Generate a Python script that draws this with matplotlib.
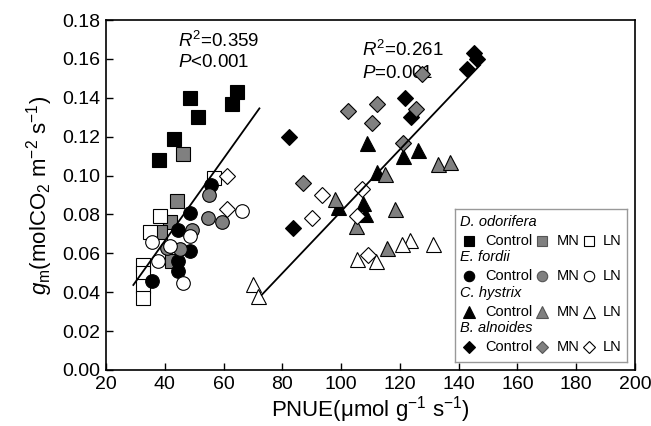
import numpy as np
import matplotlib
matplotlib.use("Agg")
import matplotlib.pyplot as plt

plt.rcParams['font.family'] = ['Liberation Sans', 'DejaVu Sans']
plt.rcParams['mathtext.fontset'] = 'custom'
plt.rcParams['mathtext.rm'] = 'Liberation Sans'
plt.rcParams['mathtext.it'] = 'Liberation Sans:italic'

# --- data (PNUE, gm) ---
# D. odorifera (squares)
do_ctrl_x = [48.6, 64.5, 62.8, 51.2, 43.2, 38.1]
do_ctrl_y = [0.140, 0.143, 0.137, 0.130, 0.119, 0.108]
do_mn_x = [46.3, 44.1, 41.8, 38.4, 42.4]
do_mn_y = [0.111, 0.087, 0.076, 0.071, 0.056]
do_ln_x = [56.8, 38.4, 35.0, 32.7, 32.7, 32.7, 32.7]
do_ln_y = [0.099, 0.079, 0.071, 0.054, 0.050, 0.043, 0.037]

# E. fordii (circles)
ef_ctrl_x = [55.6, 48.6, 44.6, 48.6, 44.6, 44.6, 35.5]
ef_ctrl_y = [0.095, 0.081, 0.072, 0.061, 0.056, 0.051, 0.046]
ef_mn_x = [55.1, 54.8, 59.4, 49.2, 40.7, 45.2]
ef_mn_y = [0.090, 0.078, 0.076, 0.072, 0.063, 0.062]
ef_ln_x = [66.2, 48.6, 41.8, 35.5, 37.8, 46.3]
ef_ln_y = [0.082, 0.069, 0.064, 0.066, 0.056, 0.045]

# C. hystrix (triangles)
ch_ctrl_x = [108.7, 126.3, 121.2, 112.1, 107.3, 99.0, 108.1]
ch_ctrl_y = [0.117, 0.113, 0.110, 0.102, 0.086, 0.084, 0.080]
ch_mn_x = [133.1, 137.0, 114.9, 97.9, 118.3, 105.1, 115.5]
ch_mn_y = [0.106, 0.107, 0.101, 0.088, 0.083, 0.074, 0.063]
ch_ln_x = [131.4, 123.4, 120.6, 105.5, 111.9, 70.1, 71.8]
ch_ln_y = [0.065, 0.067, 0.065, 0.057, 0.056, 0.044, 0.038]

# B. alnoides (diamonds)
ba_ctrl_x = [145.2, 146.1, 142.7, 121.7, 123.8, 82.4, 83.5]
ba_ctrl_y = [0.163, 0.160, 0.155, 0.140, 0.130, 0.120, 0.073]
ba_mn_x = [127.4, 125.5, 112.1, 102.4, 110.4, 121.0, 87.1]
ba_mn_y = [0.152, 0.134, 0.137, 0.133, 0.127, 0.117, 0.096]
ba_ln_x = [93.4, 107.0, 90.0, 105.5, 109.2, 61.1, 61.1]
ba_ln_y = [0.090, 0.093, 0.078, 0.079, 0.059, 0.100, 0.083]

# regression lines (slope, intercept, x range)
fit1 = (0.002117, -0.0183, 29.3, 72.2)
fit2 = (0.001591, -0.0775, 73.0, 147.3)

species = ['D. odorifera', 'E. fordii', 'C. hystrix', 'B. alnoides']
treatments = ['Control', 'MN', 'LN']
fills = ['black', '#808080', 'white']
markers = ['s', 'o', '^', 'D']
msizes = [9.4, 9.8, 10.8, 8.2]
groups = [
    [(do_ctrl_x, do_ctrl_y), (do_mn_x, do_mn_y), (do_ln_x, do_ln_y)],
    [(ef_ctrl_x, ef_ctrl_y), (ef_mn_x, ef_mn_y), (ef_ln_x, ef_ln_y)],
    [(ch_ctrl_x, ch_ctrl_y), (ch_mn_x, ch_mn_y), (ch_ln_x, ch_ln_y)],
    [(ba_ctrl_x, ba_ctrl_y), (ba_mn_x, ba_mn_y), (ba_ln_x, ba_ln_y)],
]

fig = plt.figure(figsize=(6.51, 4.26), dpi=100)
ax = fig.add_axes([106/651, 1-370/426, 529/651, 350/426])

for i, sp in enumerate(groups):
    for j, (xs, ys) in enumerate(sp):
        ax.plot(xs, ys, linestyle='none', marker=markers[i], ms=msizes[i],
                mfc=fills[j], mec='black', mew=0.8, zorder=3)

for slope, icpt, x0, x1 in (fit1, fit2):
    xx = np.array([x0, x1])
    ax.plot(xx, slope * xx + icpt, color='black', lw=1.3, zorder=4)

ax.text(44.5, 0.169, r'$R^2$=0.359', fontsize=13.5, ha='left', va='center')
ax.text(44.5, 0.158, r'$P$<0.001', fontsize=13.5, ha='left', va='center')
ax.text(107, 0.1645, r'$R^2$=0.261', fontsize=13.5, ha='left', va='center')
ax.text(107, 0.1527, r'$P$=0.001', fontsize=13.5, ha='left', va='center', zorder=2)

ax.set_xlim(20, 200)
ax.set_ylim(0, 0.18)
ax.set_xticks(np.arange(20, 201, 20))
ax.set_yticks(np.arange(0, 0.181, 0.02))
ax.set_yticklabels([f'{v:.2f}' for v in np.arange(0, 0.181, 0.02)])
ax.tick_params(direction='in', length=5, width=1, labelsize=14, pad=4)
for s in ax.spines.values():
    s.set_linewidth(1.2)
ax.set_xlabel(r'PNUE(μmol g$^{-1}$ s$^{-1}$)', fontsize=16, labelpad=1)
ax.set_ylabel(r'$g_{\rm m}$(molCO$_2$ m$^{-2}$ s$^{-1}$)', fontsize=16, labelpad=5)

# legend box drawn as an inset
lax = fig.add_axes([455/651, 1-361.7/426, 171.7/651, 152.4/426])
lax.set_xlim(0, 171.7)
lax.set_ylim(152.4, 0)
lax.set_xticks([])
lax.set_yticks([])
for s in lax.spines.values():
    s.set_color('#999999')
    s.set_linewidth(1.0)
lmsizes = [7, 7.5, 8.5, 6.5]
mark_x = [14, 86.5, 134]
text_x = [30, 101.5, 148]
for i, sp in enumerate(species):
    ty = 12.4 + i * 35.5
    ry = ty + 19
    lax.text(5, ty, sp, fontsize=10.5, style='italic', va='center', ha='left')
    for j, tr in enumerate(treatments):
        lax.plot(mark_x[j], ry, marker=markers[i], ms=lmsizes[i], mfc=fills[j],
                 mec='black' if j != 1 else '#555555', mew=0.8, linestyle='none')
        lax.text(text_x[j], ry, tr, fontsize=10.5, va='center', ha='left')

fig.savefig('out.png', dpi=100)
